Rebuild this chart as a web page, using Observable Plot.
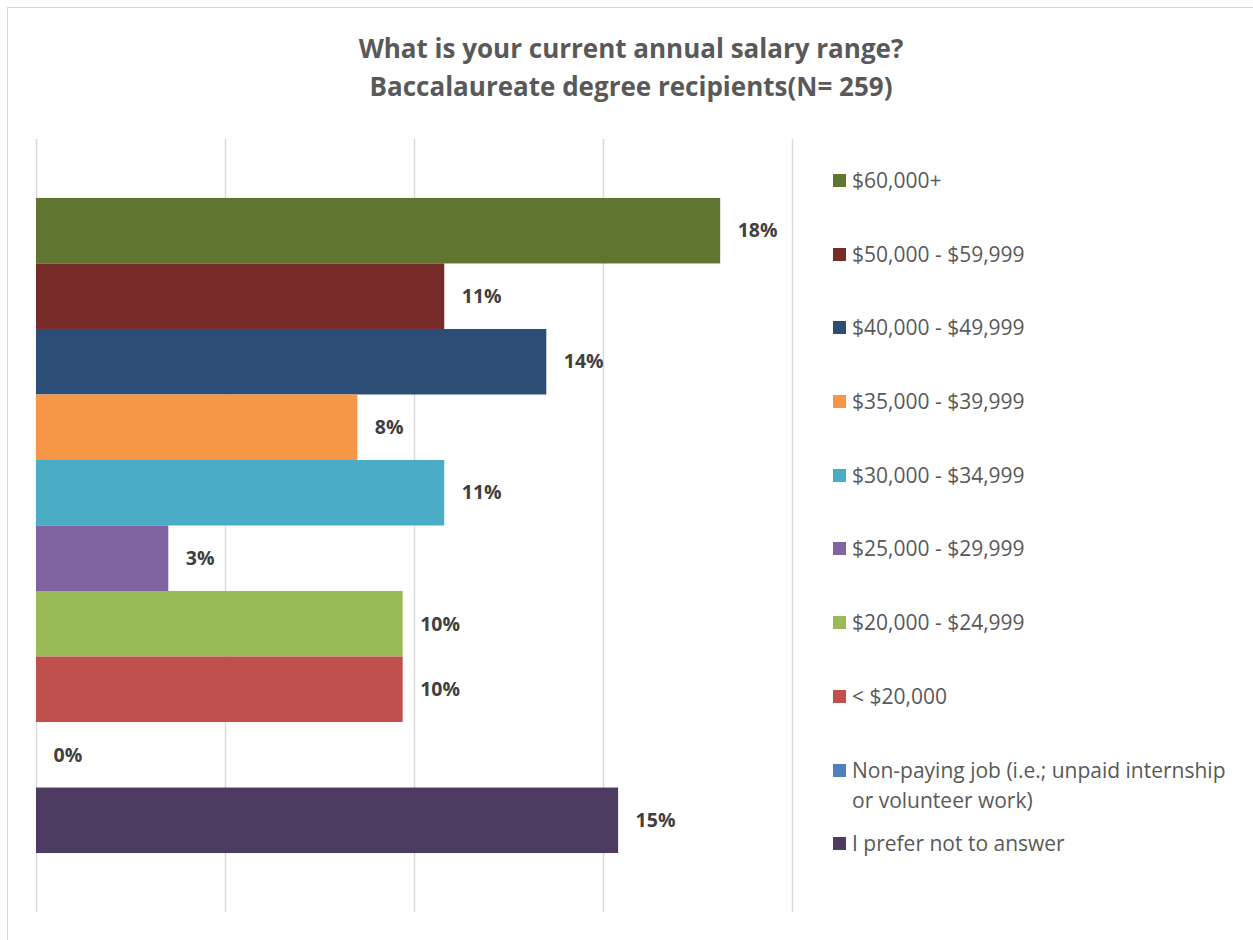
<!DOCTYPE html>
<html>
<head>
<meta charset="utf-8">
<script src="https://cdn.jsdelivr.net/npm/d3@7"></script>
<script src="https://cdn.jsdelivr.net/npm/@observablehq/plot@0.6"></script>
<style>
  html, body { margin: 0; padding: 0; background: #fff; }
  #wrap { position: relative; width: 1253px; height: 940px; overflow: hidden; font-family: "Open Sans", sans-serif; }
  #border { position: absolute; left: 7px; top: 7px; width: 1300px; height: 1000px; border: 1.5px solid #d9d9d9; box-sizing: border-box; }
  #title { position: absolute; left: 0; top: 29px; width: 1262px; text-align: center; font-weight: 700; font-size: 26px; line-height: 38px; color: #595959; }
  #chart { position: absolute; left: 0; top: 120px; }
  #legend { position: absolute; left: 833px; top: 165px; width: 395px; }
  .item { display: flex; align-items: flex-start; margin-bottom: 43.7px; font-size: 21px; line-height: 30px; color: #595959; }
  .item.multi { margin-bottom: 13px; }
  .sw { flex: 0 0 13px; width: 13px; height: 13px; margin-top: 9px; margin-right: 6px; }
</style>
</head>
<body>
<div id="wrap">
  <div id="border"></div>
  <div id="title">What is your current annual salary range?<br>Baccalaureate degree recipients(N= 259)</div>
  <div id="chart"></div>
  <div id="legend"></div>
</div>
<script>
const categories = [
  "$60,000+",
  "$50,000 - $59,999",
  "$40,000 - $49,999",
  "$35,000 - $39,999",
  "$30,000 - $34,999",
  "$25,000 - $29,999",
  "$20,000 - $24,999",
  "< $20,000",
  "Non-paying job (i.e.; unpaid internship or volunteer work)",
  "I prefer not to answer"
];
const values = [18.1, 10.8, 13.5, 8.5, 10.8, 3.5, 9.7, 9.7, 0, 15.4];
const labels = ["18%", "11%", "14%", "8%", "11%", "3%", "10%", "10%", "0%", "15%"];
const colors = ["#5f7530", "#772c2a", "#2c4d75", "#f79646", "#4bacc6", "#8064a2", "#9bbb59", "#c0504d", "#4f81bd", "#4d3b62"];
const gridTicks = [0, 5, 10, 15, 20];

const data = categories.map((c, i) => ({category: c, value: values[i], label: labels[i]}));

const chart = Plot.plot({
  width: 800,
  height: 820,
  marginLeft: 36,
  marginRight: 8,
  marginTop: 19,
  marginBottom: 28,
  x: {domain: [0, 20], axis: null},
  y: {domain: categories, axis: null, paddingInner: 0, paddingOuter: 0.9, round: false},
  color: {domain: categories, range: colors},
  style: {fontFamily: "Open Sans, sans-serif", background: "transparent"},
  marks: [
    Plot.ruleX(gridTicks, {stroke: "#d9d9d9", strokeWidth: 1.5}),
    Plot.barX(data, {x: "value", y: "category", fill: "category"}),
    Plot.text(data, {x: "value", y: "category", text: "label", dx: 17, textAnchor: "start",
      fill: "#404040", fontWeight: "bold", fontSize: 19.5})
  ]
});
document.getElementById("chart").appendChild(chart);

const legend = document.getElementById("legend");
categories.forEach((c, i) => {
  const item = document.createElement("div");
  item.className = "item";
  const sw = document.createElement("span");
  sw.className = "sw";
  sw.style.background = colors[i];
  const t = document.createElement("span");
  t.textContent = c;
  item.appendChild(sw);
  item.appendChild(t);
  legend.appendChild(item);
  if (t.getBoundingClientRect().height > 40) item.classList.add("multi");
});
</script>
</body>
</html>
